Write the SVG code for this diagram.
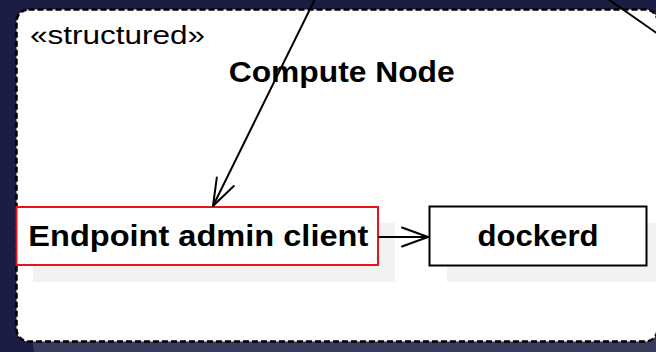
<svg xmlns="http://www.w3.org/2000/svg" width="656" height="352" viewBox="0 0 656 352">
  <style>
    .bg { fill: #1b1d42; }
    .frame-shadow { fill: #393b5c; }
    .frame { fill: #ffffff; stroke: #000000; stroke-width: 2.5; stroke-dasharray: 6 3; }
    .shadow { fill: #f2f2f2; }
    .box { fill: #ffffff; stroke: #000000; stroke-width: 2; }
    .box.selected { stroke: #e8141b; }
    .label { font-family: "Liberation Sans", Arial, sans-serif; fill: #000000; }
    .stereo { font-size: 26px; }
    .title, .name { font-size: 29px; font-weight: bold; }
    .edge { fill: none; stroke: #000000; stroke-width: 2; stroke-linecap: round; stroke-linejoin: round; }
  </style>

  <rect class="bg" x="0" y="0" width="656" height="352"/>

  <!-- structured compute node container -->
  <g id="compute-node">
    <rect class="frame-shadow" x="33" y="26" width="642" height="332" rx="12" ry="12"/>
    <rect class="frame" x="16.5" y="9.5" width="641" height="332" rx="12" ry="12"/>
    <text class="label stereo" x="30" y="43.5" textLength="175" lengthAdjust="spacingAndGlyphs">«structured»</text>
    <text class="label title" x="341.7" y="82" text-anchor="middle" textLength="226" lengthAdjust="spacingAndGlyphs">Compute Node</text>
  </g>

  <g id="endpoint-admin-client">
    <rect class="shadow" x="33" y="223" width="362" height="59"/>
    <rect class="box selected" x="16.5" y="207" width="361.5" height="58"/>
    <text class="label name" x="198.3" y="246" text-anchor="middle" textLength="340" lengthAdjust="spacingAndGlyphs">Endpoint admin client</text>
  </g>

  <g id="dockerd">
    <rect class="shadow" x="447" y="223" width="220" height="59"/>
    <rect class="box" x="429.5" y="206.5" width="217" height="59"/>
    <text class="label name" x="538" y="246" text-anchor="middle" textLength="121" lengthAdjust="spacingAndGlyphs">dockerd</text>
  </g>

  <g id="connectors">
    <!-- incoming to Endpoint admin client from above -->
    <path class="edge" d="M315,-1 L213,206"/>
    <path class="edge" d="M216.8,177.6 L213,206 L233.8,186"/>
    <!-- edge leaving to the right -->
    <path class="edge" d="M608,-1 L658,34"/>
    <!-- Endpoint admin client to dockerd -->
    <path class="edge" d="M379,237 L428,237"/>
    <path class="edge" d="M402,227.5 L428,237 L402,246.5"/>
  </g>
</svg>
